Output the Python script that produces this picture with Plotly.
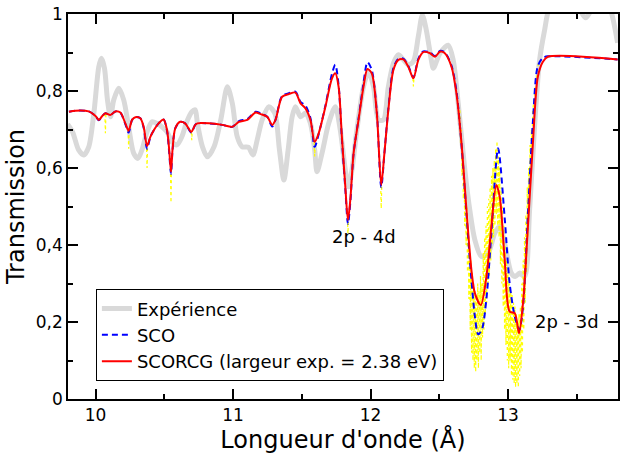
import plotly.graph_objects as go

# ---------------- data ----------------
# Experiment (gray)
x_exp = [9.797, 9.833, 9.877, 9.915, 9.951, 9.988, 10.024, 10.043, 10.065, 10.087,
         10.109, 10.133, 10.169, 10.205, 10.241, 10.278, 10.309, 10.338, 10.375, 10.411,
         10.447, 10.483, 10.520, 10.556, 10.592, 10.628, 10.664, 10.701, 10.725, 10.741,
         10.778, 10.814, 10.862, 10.911, 10.959, 10.995, 11.031, 11.067, 11.111, 11.145,
         11.176, 11.212, 11.261, 11.304, 11.338, 11.370, 11.401, 11.430, 11.454, 11.491,
         11.527, 11.563, 11.594, 11.611, 11.647, 11.696, 11.744, 11.780, 11.817, 11.841,
         11.865, 11.901, 11.949, 11.986, 12.022, 12.058, 12.094, 12.130, 12.167, 12.203,
         12.239, 12.275, 12.312, 12.348, 12.377, 12.406, 12.442, 12.457, 12.505, 12.565,
         12.601, 12.638, 12.686, 12.722, 12.759, 12.806, 12.855, 12.903, 12.940, 12.976,
         13.024, 13.053, 13.085, 13.121, 13.157, 13.193, 13.230, 13.266, 13.304, 13.400,
         13.507, 13.565, 13.623, 13.696, 13.746, 13.797]
y_exp = [0.714, 0.694, 0.647, 0.634, 0.655, 0.742, 0.863, 0.885, 0.860, 0.777,
         0.733, 0.777, 0.807, 0.777, 0.707, 0.638, 0.625, 0.647, 0.694, 0.720,
         0.716, 0.707, 0.694, 0.668, 0.660, 0.681, 0.720, 0.746, 0.751, 0.716,
         0.655, 0.629, 0.655, 0.725, 0.811, 0.768, 0.681, 0.655, 0.654, 0.634,
         0.673, 0.725, 0.759, 0.742, 0.647, 0.569, 0.647, 0.733, 0.759, 0.733,
         0.742, 0.716, 0.647, 0.590, 0.638, 0.716, 0.759, 0.699, 0.595, 0.551,
         0.595, 0.699, 0.811, 0.850, 0.811, 0.725, 0.725, 0.811, 0.872, 0.894,
         0.881, 0.868, 0.877, 0.942, 0.997, 0.958, 0.881, 0.859, 0.898, 0.919,
         0.881, 0.768, 0.595, 0.491, 0.413, 0.370, 0.378, 0.430, 0.448, 0.404,
         0.327, 0.318, 0.327, 0.318, 0.491, 0.707, 0.881, 0.958, 1.020, 1.060,
         1.020, 0.990, 1.020, 1.040, 1.010, 0.925]

# SCORCG (red)
x_scorcg = [9.807, 9.855, 9.951, 10.000, 10.024, 10.049, 10.072, 10.109, 10.145, 10.181,
            10.217, 10.241, 10.266, 10.290, 10.326, 10.350, 10.375, 10.399, 10.422, 10.459,
            10.495, 10.520, 10.536, 10.549, 10.560, 10.580, 10.616, 10.652, 10.696, 10.725,
            10.741, 10.826, 10.922, 10.995, 11.043, 11.104, 11.164, 11.201, 11.249, 11.285,
            11.309, 11.357, 11.406, 11.454, 11.491, 11.527, 11.563, 11.594, 11.623, 11.672,
            11.720, 11.744, 11.768, 11.792, 11.817, 11.836, 11.853, 11.877, 11.913, 11.949,
            11.978, 12.009, 12.046, 12.078, 12.101, 12.130, 12.167, 12.203, 12.239, 12.275,
            12.312, 12.348, 12.384, 12.433, 12.469, 12.505, 12.541, 12.589, 12.625, 12.662,
            12.698, 12.734, 12.759, 12.802, 12.843, 12.879, 12.915, 12.940, 12.976, 13.012,
            13.049, 13.080, 13.109, 13.145, 13.181, 13.217, 13.254, 13.290, 13.797]
y_scorcg = [0.746, 0.749, 0.747, 0.735, 0.725, 0.735, 0.742, 0.738, 0.747, 0.744,
            0.716, 0.697, 0.725, 0.732, 0.729, 0.707, 0.657, 0.681, 0.697, 0.716,
            0.726, 0.699, 0.647, 0.590, 0.647, 0.703, 0.720, 0.716, 0.694, 0.712,
            0.716, 0.716, 0.712, 0.707, 0.720, 0.725, 0.744, 0.740, 0.733, 0.712,
            0.725, 0.785, 0.792, 0.796, 0.768, 0.755, 0.725, 0.668, 0.690, 0.759,
            0.833, 0.846, 0.811, 0.681, 0.551, 0.465, 0.517, 0.638, 0.725, 0.811,
            0.857, 0.846, 0.742, 0.556, 0.638, 0.751, 0.855, 0.881, 0.882, 0.863,
            0.833, 0.881, 0.901, 0.898, 0.889, 0.902, 0.898, 0.863, 0.794, 0.664,
            0.491, 0.335, 0.275, 0.244, 0.318, 0.448, 0.556, 0.525, 0.361, 0.227,
            0.223, 0.171, 0.249, 0.448, 0.664, 0.837, 0.876, 0.889, 0.882]

# SCO (blue dashed)
x_sco = [9.807, 9.855, 9.951, 10.000, 10.024, 10.049, 10.072, 10.109, 10.145, 10.181,
         10.217, 10.241, 10.266, 10.290, 10.326, 10.350, 10.375, 10.399, 10.422, 10.459,
         10.495, 10.520, 10.536, 10.549, 10.560, 10.580, 10.616, 10.652, 10.696, 10.725,
         10.741, 10.826, 10.922, 10.995, 11.043, 11.104, 11.164, 11.201, 11.249, 11.285,
         11.309, 11.357, 11.406, 11.454, 11.491, 11.527, 11.563, 11.594, 11.623, 11.672,
         11.720, 11.744, 11.768, 11.792, 11.817, 11.836, 11.853, 11.877, 11.913, 11.949,
         11.978, 12.009, 12.046, 12.078, 12.101, 12.130, 12.167, 12.203, 12.239, 12.275,
         12.312, 12.348, 12.384, 12.433, 12.469, 12.505, 12.541, 12.589, 12.625, 12.662,
         12.698, 12.734, 12.759, 12.783, 12.810, 12.843, 12.879, 12.928, 12.976, 13.012,
         13.049, 13.083, 13.109, 13.145, 13.181, 13.217, 13.254, 13.290, 13.797]
y_sco = [0.746, 0.749, 0.747, 0.735, 0.724, 0.735, 0.742, 0.738, 0.747, 0.744,
         0.714, 0.692, 0.725, 0.732, 0.729, 0.705, 0.650, 0.681, 0.697, 0.716,
         0.726, 0.697, 0.640, 0.585, 0.645, 0.703, 0.720, 0.716, 0.692, 0.712,
         0.716, 0.716, 0.712, 0.707, 0.722, 0.727, 0.746, 0.742, 0.733, 0.708,
         0.725, 0.787, 0.794, 0.798, 0.772, 0.762, 0.730, 0.655, 0.688, 0.762,
         0.845, 0.868, 0.815, 0.675, 0.545, 0.455, 0.510, 0.638, 0.728, 0.820,
         0.875, 0.855, 0.745, 0.550, 0.638, 0.755, 0.860, 0.884, 0.884, 0.865,
         0.835, 0.884, 0.903, 0.900, 0.891, 0.904, 0.900, 0.866, 0.800, 0.660,
         0.480, 0.310, 0.215, 0.168, 0.180, 0.260, 0.430, 0.651, 0.470, 0.300,
         0.215, 0.180, 0.240, 0.480, 0.720, 0.865, 0.886, 0.890, 0.882]

# Yellow high-resolution spectrum (unlabelled, dotted); None separates pieces
x_hr = [10.068, 10.072, 10.076, None,
        10.237, 10.241, 10.245, None,
        10.371, 10.375, 10.379, None,
        10.545, 10.549, 10.553, None,
        10.696, 10.700, 10.704, None,
        11.590, 11.594, 11.598, None,
        11.832, 11.836, 11.840, None,
        12.074, 12.078, 12.082, None,
        12.308, 12.312, 12.316, None,
        12.650, 12.655, 12.660, 12.665, 12.670, 12.675, 12.680, 12.685, 12.690, 12.695,
        12.700, 12.705, 12.710, 12.715, 12.720, 12.725, 12.730, 12.735, 12.740, 12.745,
        12.750, 12.755, 12.760, 12.765, 12.770, 12.775, 12.780, 12.785, 12.790, 12.795,
        12.800, 12.805, 12.810, 12.815, 12.820, 12.825, 12.830, 12.835, 12.840, 12.845,
        12.850, 12.855, 12.860, 12.865, 12.870, 12.875, 12.880, 12.885, 12.890, 12.895,
        12.900, 12.905, 12.910, 12.915, 12.920, 12.925, 12.930, 12.935, 12.940, 12.945,
        12.950, 12.955, 12.960, 12.965, 12.970, 12.975, 12.980, 12.985, 12.990, 12.995,
        13.000, 13.005, 13.010, 13.015, 13.020, 13.025, 13.030, 13.035, 13.040, 13.045,
        13.050, 13.055, 13.060, 13.065, 13.070, 13.075, 13.080, 13.085, 13.090, 13.095,
        13.100, 13.105, 13.110, 13.115, 13.120, 13.125, 13.130, 13.135, 13.140, 13.145,
        13.150, 13.155, 13.160, 13.165, 13.170, 13.175, 13.180, 13.190, 13.200, 13.210,
        13.220]
y_hr = [0.742, 0.690, 0.742, None,
        0.700, 0.650, 0.705, None,
        0.665, 0.600, 0.665, None,
        0.600, 0.510, 0.600, None,
        0.694, 0.672, 0.700, None,
        0.668, 0.630, 0.668, None,
        0.470, 0.430, 0.470, None,
        0.556, 0.495, 0.556, None,
        0.833, 0.812, 0.833, None,
        0.75, 0.66, 0.70, 0.58, 0.64, 0.52, 0.60, 0.45, 0.55, 0.40,
        0.50, 0.33, 0.44, 0.26, 0.40, 0.18, 0.36, 0.12, 0.33, 0.10,
        0.30, 0.08, 0.28, 0.07, 0.27, 0.10, 0.30, 0.08, 0.28, 0.12,
        0.32, 0.10, 0.30, 0.16, 0.38, 0.18, 0.42, 0.22, 0.45, 0.25,
        0.50, 0.30, 0.52, 0.32, 0.55, 0.36, 0.58, 0.40, 0.60, 0.42,
        0.62, 0.45, 0.65, 0.48, 0.67, 0.45, 0.63, 0.42, 0.60, 0.35,
        0.55, 0.30, 0.50, 0.24, 0.45, 0.18, 0.40, 0.14, 0.36, 0.10,
        0.33, 0.08, 0.30, 0.10, 0.28, 0.06, 0.27, 0.05, 0.25, 0.04,
        0.24, 0.03, 0.22, 0.04, 0.20, 0.03, 0.22, 0.06, 0.24, 0.08,
        0.30, 0.12, 0.36, 0.18, 0.42, 0.25, 0.48, 0.33, 0.55, 0.42,
        0.60, 0.50, 0.66, 0.58, 0.70, 0.65, 0.75, 0.78, 0.82, 0.85,
        0.87]

legend_names = ["Expérience", "SCO", "SCORCG (largeur exp. = 2.38 eV)"]
annot_text = ["2p - 4d", "2p - 3d"]
annot_x = [11.953, 13.428]
annot_y = [0.421, 0.202]

FONT = "DejaVu Sans"

fig = go.Figure()
fig.add_trace(go.Scatter(x=x_exp, y=y_exp, mode="lines", name=legend_names[0],
                         line=dict(color="#d9d9d9", width=5, shape="spline", smoothing=0.8)))
fig.add_trace(go.Scatter(x=x_hr, y=y_hr, mode="lines", showlegend=False, connectgaps=False,
                         line=dict(color="#ffff00", width=1.2, dash="dot")))
fig.add_trace(go.Scatter(x=x_sco, y=y_sco, mode="lines", name=legend_names[1],
                         line=dict(color="#0000ff", width=2, dash="6px,4px", shape="spline", smoothing=0.8)))
fig.add_trace(go.Scatter(x=x_scorcg, y=y_scorcg, mode="lines", name=legend_names[2],
                         line=dict(color="#ff0000", width=2, shape="spline", smoothing=0.8)))

for t, ax, ay in zip(annot_text, annot_x, annot_y):
    fig.add_annotation(x=ax, y=ay, text=t, showarrow=False,
                       font=dict(family=FONT, size=18, color="black"))

axis_common = dict(showline=True, linecolor="black", linewidth=1.5, mirror="allticks",
                   ticks="inside", ticklen=10, tickwidth=1.5, tickcolor="black",
                   showgrid=False, zeroline=False,
                   tickfont=dict(family=FONT, size=17, color="black"))

fig.update_xaxes(range=[9.8, 13.8], tick0=10, dtick=1,
                 minor=dict(dtick=0.5, ticks="inside", ticklen=5, tickwidth=1.5, tickcolor="black"),
                 title=dict(text="Longueur d'onde (Å)", font=dict(family=FONT, size=24, color="black"), standoff=6),
                 **axis_common)
fig.update_yaxes(range=[0, 1], tick0=0, dtick=0.2,
                 minor=dict(dtick=0.1, ticks="inside", ticklen=5, tickwidth=1.5, tickcolor="black"),
                 title=dict(text="Transmission", font=dict(family=FONT, size=24, color="black"), standoff=4),
                 **axis_common)

fig.update_layout(
    width=620, height=454,
    margin=dict(l=68, r=0, t=14, b=55),
    paper_bgcolor="white", plot_bgcolor="white",
    separators=", ",
    font=dict(family=FONT, color="black"),
    legend=dict(x=0.0507, y=0.285, xanchor="left", yanchor="top",
                bordercolor="black", borderwidth=1, bgcolor="white",
                font=dict(family=FONT, size=18, color="black"),
                tracegroupgap=0),
)

fig.write_html("out.html")
